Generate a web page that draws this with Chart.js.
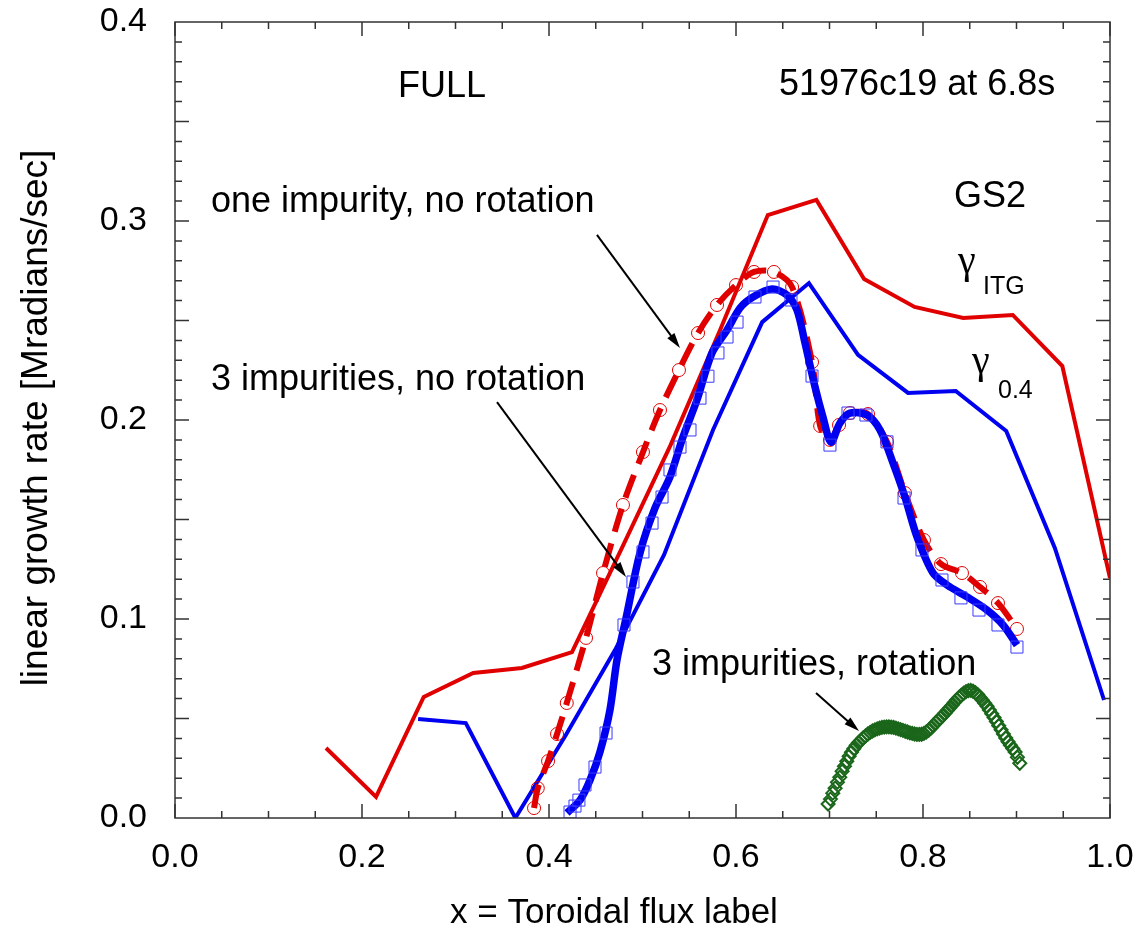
<!DOCTYPE html>
<html>
<head>
<meta charset="utf-8">
<script src="https://cdn.jsdelivr.net/npm/chart.js@4.4.1/dist/chart.umd.min.js"></script>
<style>
  html, body { margin: 0; padding: 0; background: #fff; }
  canvas { display: block; }
</style>
</head>
<body>
<canvas id="growth" width="1142" height="937"></canvas>
<script>
// gamma_ITG (red solid)
const itgX = [0.1615, 0.215, 0.266, 0.319, 0.371, 0.4246, 0.477, 0.530, 0.583, 0.634, 0.686, 0.737, 0.791, 0.843, 0.896, 0.949, 1.0];
const itgY = [0.0352, 0.0106, 0.0608, 0.0729, 0.0754, 0.0834, 0.1347, 0.1874, 0.2452, 0.303, 0.3106, 0.2709, 0.2568, 0.2513, 0.2528, 0.2271, 0.1206];

// gamma_0.4 (blue solid)
const g04X = [0.26, 0.311, 0.364, 0.418, 0.4706, 0.523, 0.5754, 0.628, 0.678, 0.7305, 0.784, 0.835, 0.889, 0.941, 0.9936];
const g04Y = [0.0497, 0.0477, 0.0, 0.0417, 0.0844, 0.1322, 0.195, 0.2492, 0.2688, 0.2327, 0.2136, 0.2146, 0.1945, 0.1357, 0.0593];

// one impurity, no rotation (red dashed + circles)
const oneImpX = [0.384, 0.388, 0.399, 0.4086, 0.419, 0.4396, 0.4578, 0.4791, 0.5005, 0.5187, 0.539, 0.5594, 0.5797, 0.6, 0.6193, 0.6406, 0.66, 0.6813, 0.69, 0.7005, 0.7102, 0.7219, 0.7412, 0.7615, 0.7807, 0.801, 0.8193, 0.8417, 0.861, 0.8802, 0.9005];
const oneImpY = [0.005, 0.015, 0.0286, 0.0422, 0.0578, 0.0905, 0.1231, 0.1573, 0.1839, 0.205, 0.2251, 0.2437, 0.2578, 0.2678, 0.2744, 0.2744, 0.2668, 0.2291, 0.197, 0.19, 0.1975, 0.2035, 0.203, 0.189, 0.1633, 0.1397, 0.1276, 0.1231, 0.1161, 0.108, 0.095];

// 3 impurities, no rotation (thick blue line)
const threeImpX = [0.4193, 0.4332, 0.4439, 0.4545, 0.4652, 0.4727, 0.4824, 0.4973, 0.5134, 0.5294, 0.5433, 0.5583, 0.5743, 0.5904, 0.6043, 0.6182, 0.6385, 0.6545, 0.6652, 0.6738, 0.6845, 0.693, 0.7016, 0.7112, 0.7219, 0.7401, 0.754, 0.7679, 0.7807, 0.7936, 0.8107, 0.8257, 0.8471, 0.8684, 0.8856, 0.9005];
const threeImpY = [0.0025, 0.009, 0.0191, 0.0332, 0.0543, 0.0794, 0.1005, 0.1332, 0.1558, 0.1714, 0.1915, 0.2101, 0.2337, 0.2452, 0.2563, 0.2618, 0.2658, 0.2628, 0.2553, 0.2387, 0.2166, 0.2015, 0.1889, 0.1985, 0.2035, 0.2025, 0.195, 0.1784, 0.1613, 0.1412, 0.1231, 0.1171, 0.1111, 0.1045, 0.097, 0.0869];

// 3 impurities, no rotation (square symbols)
const threeSymX = [0.4225, 0.4278, 0.432, 0.4385, 0.4492, 0.461, 0.4802, 0.4898, 0.5005, 0.5102, 0.5209, 0.5294, 0.5401, 0.5508, 0.5615, 0.570, 0.5807, 0.5904, 0.6011, 0.6203, 0.6396, 0.6588, 0.6813, 0.7005, 0.7198, 0.739, 0.7615, 0.7797, 0.7989, 0.8203, 0.8406, 0.8599, 0.8802, 0.9005];
const threeSymY = [0.003, 0.006, 0.009, 0.0166, 0.0256, 0.0427, 0.097, 0.1186, 0.1337, 0.1482, 0.1613, 0.1749, 0.1864, 0.195, 0.211, 0.222, 0.2337, 0.2417, 0.2492, 0.2618, 0.2668, 0.2603, 0.2221, 0.1874, 0.2035, 0.2025, 0.189, 0.1608, 0.1347, 0.1196, 0.1106, 0.1045, 0.097, 0.0859];

// 3 impurities, rotation (green diamonds, read along the band)
const rotX = [0.6985, 0.7010, 0.7035, 0.7060, 0.7085, 0.7110, 0.7135, 0.7160, 0.7185, 0.7210, 0.7235, 0.7260, 0.7285, 0.7310, 0.7335, 0.7360, 0.7385, 0.7410, 0.7435, 0.7460, 0.7485, 0.7510, 0.7535, 0.7560, 0.7585, 0.7610, 0.7635, 0.7660, 0.7685, 0.7710, 0.7735, 0.7760, 0.7785, 0.7810, 0.7835, 0.7860, 0.7885, 0.7910, 0.7935, 0.7960, 0.7985, 0.8010, 0.8035, 0.8060, 0.8085, 0.8110, 0.8135, 0.8160, 0.8185, 0.8210, 0.8235, 0.8260, 0.8285, 0.8310, 0.8335, 0.8360, 0.8385, 0.8410, 0.8435, 0.8460, 0.8485, 0.8510, 0.8535, 0.8560, 0.8585, 0.8610, 0.8635, 0.8660, 0.8685, 0.8710, 0.8735, 0.8760, 0.8785, 0.8810, 0.8835, 0.8860, 0.8885, 0.8910, 0.8935, 0.8960, 0.8985, 0.9010, 0.9035];
const rotY = [0.0070, 0.0095, 0.0125, 0.0150, 0.0180, 0.0205, 0.0235, 0.0260, 0.0285, 0.0310, 0.0330, 0.0348, 0.0365, 0.0378, 0.0390, 0.0402, 0.0412, 0.0422, 0.0430, 0.0437, 0.0443, 0.0448, 0.0452, 0.0455, 0.0457, 0.0458, 0.0458, 0.0457, 0.0455, 0.0452, 0.0448, 0.0444, 0.0440, 0.0436, 0.0432, 0.0428, 0.0425, 0.0422, 0.0420, 0.0420, 0.0421, 0.0425, 0.0432, 0.0441, 0.0452, 0.0465, 0.0478, 0.0490, 0.0502, 0.0514, 0.0527, 0.0540, 0.0553, 0.0566, 0.0580, 0.0594, 0.0606, 0.0617, 0.0627, 0.0635, 0.0640, 0.0641, 0.0637, 0.0630, 0.0620, 0.0606, 0.0592, 0.0577, 0.0561, 0.0543, 0.0524, 0.0505, 0.0485, 0.0464, 0.0443, 0.0422, 0.0402, 0.0383, 0.0366, 0.0349, 0.0332, 0.0305, 0.0275];

// axis ticks
const xTickLabels = [0.0, 0.2, 0.4, 0.6, 0.8, 1.0];
const yTickLabels = [0.0, 0.1, 0.2, 0.3, 0.4];
const xMinorTicks = [0.05, 0.1, 0.15, 0.25, 0.3, 0.35, 0.45, 0.5, 0.55, 0.65, 0.7, 0.75, 0.85, 0.9, 0.95];
const yMajorTicks = [0.05, 0.1, 0.15, 0.2, 0.25, 0.3, 0.35];
const yMinorStep = 0.01;

const xTitle = 'x = Toroidal flux label';
const yTitle = 'linear growth rate [Mradians/sec]';

// annotations (data coordinates, left/baseline)
const labels = [
    { text: 'FULL', x: 0.2385, y: 0.3623, size: 36 },
    { text: '51976c19 at 6.8s', x: 0.646, y: 0.3633, size: 36 },
    { text: 'GS2', x: 0.8332, y: 0.307, size: 36 },
    { text: 'one impurity, no rotation', x: 0.0385, y: 0.3045, size: 36 },
    { text: '3 impurities, no rotation', x: 0.0385, y: 0.2151, size: 36 },
    { text: '3 impurities, rotation', x: 0.5102, y: 0.0719, size: 36 },
    { text: '\u03B3', x: 0.8374, y: 0.2739, size: 40, serif: true },
    { text: 'ITG', x: 0.8642, y: 0.2633, size: 25 },
    { text: '\u03B3', x: 0.8524, y: 0.2236, size: 40, serif: true },
    { text: '0.4', x: 0.8802, y: 0.2111, size: 25 }
];
const arrows = [
    { x1: 0.4513, y1: 0.293, x2: 0.5401, y2: 0.2362 },
    { x1: 0.3444, y1: 0.209, x2: 0.4824, y2: 0.1211 },
    { x1: 0.6856, y1: 0.0628, x2: 0.7316, y2: 0.0437 }
];

const RED = '#e00000';
const BLUE = '#0000f0';
const GREEN = '#1a661a';
const FONT = "'Liberation Sans', Arial, sans-serif";

function toPoints(xs, ys) {
    return xs.map((x, i) => ({ x: x, y: ys[i] }));
}

// frame, inward ticks, tick labels, titles, text and arrows
const decorPlugin = {
    id: 'decor',
    afterDraw(chart) {
        const ctx = chart.ctx;
        const xs = chart.scales.x;
        const ys = chart.scales.y;
        const a = chart.chartArea;
        ctx.save();
        ctx.strokeStyle = '#333';
        ctx.lineWidth = 1.5;
        ctx.strokeRect(a.left, a.top, a.right - a.left, a.bottom - a.top);

        ctx.beginPath();
        const xTick = (v, len) => {
            const px = xs.getPixelForValue(v);
            ctx.moveTo(px, a.bottom); ctx.lineTo(px, a.bottom - len);
            ctx.moveTo(px, a.top); ctx.lineTo(px, a.top + len);
        };
        const yTick = (v, len) => {
            const py = ys.getPixelForValue(v);
            ctx.moveTo(a.left, py); ctx.lineTo(a.left + len, py);
            ctx.moveTo(a.right, py); ctx.lineTo(a.right - len, py);
        };
        xTickLabels.forEach(v => xTick(v, 14));
        xMinorTicks.forEach(v => xTick(v, 7));
        yMajorTicks.forEach(v => yTick(v, 14));
        for (let i = 1; i < 40; i++) {
            if (i % 5 !== 0) yTick(i * yMinorStep, 7);
        }
        ctx.stroke();

        // tick labels
        ctx.fillStyle = '#000';
        ctx.font = '34px ' + FONT;
        ctx.textAlign = 'center';
        ctx.textBaseline = 'middle';
        xTickLabels.forEach(v => ctx.fillText(v.toFixed(1), xs.getPixelForValue(v), a.bottom + 40));
        ctx.textAlign = 'right';
        yTickLabels.forEach(v => ctx.fillText(v.toFixed(1), a.left - 28, ys.getPixelForValue(v)));

        // axis titles
        ctx.textAlign = 'center';
        ctx.font = '35px ' + FONT;
        ctx.fillText(xTitle, xs.getPixelForValue(0.4695), a.bottom + 95);
        ctx.save();
        ctx.translate(37, ys.getPixelForValue(0.2) - 2);
        ctx.rotate(-Math.PI / 2);
        ctx.font = '37px ' + FONT;
        ctx.fillText(yTitle, 0, 0);
        ctx.restore();

        // arrows
        ctx.strokeStyle = '#000';
        ctx.fillStyle = '#000';
        ctx.lineWidth = 2;
        arrows.forEach(ar => {
            const x1 = xs.getPixelForValue(ar.x1), y1 = ys.getPixelForValue(ar.y1);
            const x2 = xs.getPixelForValue(ar.x2), y2 = ys.getPixelForValue(ar.y2);
            const ang = Math.atan2(y2 - y1, x2 - x1);
            ctx.beginPath();
            ctx.moveTo(x1, y1);
            ctx.lineTo(x2 - 10 * Math.cos(ang), y2 - 10 * Math.sin(ang));
            ctx.stroke();
            ctx.beginPath();
            ctx.moveTo(x2, y2);
            ctx.lineTo(x2 - 16 * Math.cos(ang - 0.28), y2 - 16 * Math.sin(ang - 0.28));
            ctx.lineTo(x2 - 16 * Math.cos(ang + 0.28), y2 - 16 * Math.sin(ang + 0.28));
            ctx.closePath();
            ctx.fill();
        });

        // text labels
        ctx.textAlign = 'left';
        ctx.textBaseline = 'alphabetic';
        labels.forEach(l => {
            ctx.font = l.size + 'px ' + (l.serif ? "'Liberation Serif', serif" : FONT);
            ctx.fillText(l.text, xs.getPixelForValue(l.x), ys.getPixelForValue(l.y));
        });
        ctx.restore();
    }
};

const ctx = document.getElementById('growth').getContext('2d');

new Chart(ctx, {
    type: 'scatter',
    data: {
        datasets: [
            {
                label: '3 impurities, rotation',
                data: toPoints(rotX, rotY),
                showLine: false,
                pointStyle: 'rectRot',
                pointRadius: 6.5,
                borderColor: GREEN,
                backgroundColor: 'rgba(255,255,255,0)',
                borderWidth: 2,
                order: 0
            },
            {
                label: '3 impurities, no rotation (symbols)',
                data: toPoints(threeSymX, threeSymY),
                showLine: false,
                pointStyle: 'rect',
                pointRadius: 8.5,
                borderColor: '#3a3aff',
                backgroundColor: 'rgba(255,255,255,0)',
                borderWidth: 1,
                order: 1
            },
            {
                label: '3 impurities, no rotation',
                data: toPoints(threeImpX, threeImpY),
                showLine: true,
                pointRadius: 0,
                borderColor: BLUE,
                borderWidth: 7.5,
                tension: 0.3,
                order: 2
            },
            {
                label: 'one impurity, no rotation',
                data: toPoints(oneImpX, oneImpY),
                showLine: true,
                borderDash: [24, 12],
                pointStyle: 'circle',
                pointRadius: 6.5,
                pointBorderWidth: 1,
                pointBorderColor: RED,
                pointBackgroundColor: 'rgba(255,255,255,0)',
                borderColor: RED,
                borderWidth: 6,
                tension: 0.3,
                order: 3
            },
            {
                label: 'gamma 0.4',
                data: toPoints(g04X, g04Y),
                showLine: true,
                pointRadius: 0,
                borderColor: BLUE,
                borderWidth: 4,
                order: 4
            },
            {
                label: 'gamma ITG',
                data: toPoints(itgX, itgY),
                showLine: true,
                pointRadius: 0,
                borderColor: RED,
                borderWidth: 4,
                order: 5
            }
        ]
    },
    options: {
        responsive: false,
        animation: false,
        devicePixelRatio: 1,
        layout: { padding: { left: 175, top: 22, right: 32, bottom: 119 } },
        plugins: {
            legend: { display: false },
            tooltip: { enabled: false }
        },
        scales: {
            x: { type: 'linear', min: 0, max: 1, display: false },
            y: { type: 'linear', min: 0, max: 0.4, display: false }
        }
    },
    plugins: [decorPlugin]
});
</script>
</body>
</html>
